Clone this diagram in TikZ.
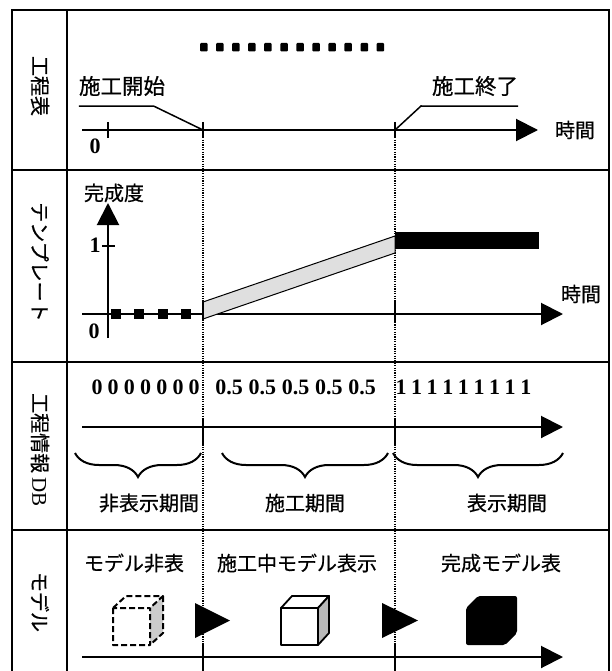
\documentclass[tikz,border=0pt]{standalone}
\usepackage{fontspec}
\newfontfamily\jp[FakeBold=0.6]{Noto Sans CJK JP}
\newfontfamily\numfont{Liberation Serif}
\usetikzlibrary{arrows.meta,decorations.pathreplacing}

\tikzset{
  frame/.style={line width=1.8pt},
  axis/.style={line width=2pt,-{Triangle[length=22pt,width=22pt]}},
  guide/.style={line width=1.3pt,dash pattern=on 1.2pt off 1.2pt},
  tickmark/.style={line width=2pt},
  lead/.style={line width=1.5pt},
  jtext/.style={font=\jp\fontsize{20}{20}\selectfont,inner sep=0pt},
  rowlabel/.style={font=\jp\fontsize{20}{20}\selectfont,inner sep=0pt,rotate=-90},
  num/.style={font=\numfont\bfseries\fontsize{22}{22}\selectfont,inner sep=0pt},
  period/.style={decorate,decoration={brace,amplitude=24pt,mirror},line width=2pt},
}

\begin{document}
\begin{tikzpicture}[x=1pt,y=-1pt]
  \useasboundingbox (0,0) rectangle (612,671);

  % Frame and rows
  \draw[frame] (12,671) -- (12,10) -- (609,10) -- (609,671);
  \draw[frame] (67,10) -- (67,671);
  \foreach \y in {170,362,530}
    \draw[frame] (12,\y) -- (609,\y);

  \node[rowlabel] (lSched) at (40,86) {工程表};
  \node[rowlabel] (lTmpl) at (40,262) {テンプレート};
  \node[rowlabel] (lDB) at (40,450) {工程情報 {\numfont\fontsize{21}{21}\selectfont DB}};
  \node[rowlabel] (lModel) at (40,602) {モデル};

  % Start / finish guides
  \coordinate (start) at (203,130);
  \coordinate (finish) at (395,130);
  \coordinate (startB) at (203,671);
  \coordinate (finishB) at (395,671);
  \draw[guide] (start) -- (startB);
  \draw[guide] (finish) -- (finishB);

  % Schedule
  \coordinate (s0) at (82,130);
  \coordinate (s1) at (538,130);
  \draw[axis] (s0) -- (s1);
  \foreach \x in {108,203,395}
    \draw[tickmark] (\x,122) -- (\x,138);
  \node[num] (sZero) at (95,146) {0};
  \node[jtext] (time1) at (575,130) {時間};
  \foreach \i in {0,...,11}
    \fill[rounded corners=1pt] ({200+16.05*\i},43) rectangle ++(7.5,8.5);
  \node[jtext,font=\jp\fontsize{21.5}{21.5}\selectfont] (lbStart) at (122,86) {施工開始};
  \node[jtext,font=\jp\fontsize{21.5}{21.5}\selectfont] (lbEnd) at (475,86) {施工終了};
  \draw[lead] ([yshift=-10pt]lbStart.south west) -- ++(75,0) -- (start);
  \draw[lead] (finish) -- ++(26,-24) -- ([yshift=-10pt]lbEnd.south east);

  % Template
  \coordinate (t0) at (82,314);
  \coordinate (t1) at (563,314);
  \coordinate (v0) at (108,338);
  \coordinate (v1) at (108,203);
  \draw[axis] (t0) -- (t1);
  \draw[axis] (v0) -- (v1);
  \draw[tickmark] (102,246) -- (115,246);
  \draw[tickmark] (395,300) -- (395,322);
  \node[num] (tOne) at (95,245) {1};
  \node[num] (tZero) at (94,331) {0};
  \node[jtext] (degree) at (114,193) {完成度};
  \node[jtext] (time2) at (581,294) {時間};
  \foreach \x in {115.5,139,162.5,185.5}
    \fill (\x-5,309) rectangle ++(10,10);
  \filldraw[fill=gray!25,line width=1pt] (203,302) -- (395,236) -- (395,253) -- (203,319) -- cycle;
  \draw[tickmark] (203,302) -- (203,320);
  \fill (395,232) rectangle (539,249);

  % Schedule DB
  \coordinate (d0) at (82,427);
  \coordinate (d1) at (563,427);
  \draw[axis] (d0) -- (d1);
  \foreach \x in {203,395}
    \draw[tickmark] (\x,418) -- (\x,445);
  \foreach \i in {0,...,6}
    \node[num] (zero\i) at ({97+16.2*\i},387) {0};
  \foreach \i in {0,...,4}
    \node[num] (half\i) at ({229+33.25*\i},387) {0.5};
  \foreach \i in {0,...,8}
    \node[num] (one\i) at ({401+15.6*\i},387) {1};
  \draw[period] (75,453) -- (201,453);
  \draw[period] (222,453) -- (388,453);
  \draw[period] (393,453) -- (563,453);
  \node[jtext] (hidden) at (149,503) {非表示期間};
  \node[jtext] (building) at (305,503) {施工期間};
  \node[jtext] (shown) at (507,503) {表示期間};

  % Model
  \coordinate (m0) at (82,657);
  \coordinate (m1) at (563,657);
  \draw[axis] (m0) -- (m1);
  \foreach \x in {203,395}
    \draw[tickmark] (\x,643) -- (\x,671);
  \node[jtext] (mHidden) at (134,563) {モデル非表};
  \node[jtext] (mBuilding) at (297,563) {施工中モデル表示};
  \node[jtext] (mDone) at (501,563) {完成モデル表};

  % hidden model
  \fill[gray!40] (150,608) -- (163,596) -- (163,633) -- (150,645) -- cycle;
  \draw[line width=2pt,dash pattern=on 6pt off 3pt,line join=round]
    (113,608) rectangle (150,645)
    (113,608) -- (126,596) -- (163,596) -- (150,608)
    (163,596) -- (163,633) -- (150,645);
  % model under construction
  \filldraw[fill=white,line width=1.8pt,line join=round] (281,608) rectangle (318,645);
  \filldraw[fill=white,line width=1.8pt,line join=round] (281,608) -- (292,596) -- (329,596) -- (318,608) -- cycle;
  \filldraw[fill=gray!55,line width=1.8pt,line join=round] (318,608) -- (329,596) -- (329,633) -- (318,645) -- cycle;
  % finished model
  \fill[rounded corners=2pt] (466,608) -- (478,596) -- (517,596) -- (517,633) -- (505,645) -- (466,645) -- cycle;

  \fill (195,603) -- (195,638) -- (230,620.5) -- cycle;
  \fill (382,603) -- (382,638) -- (418,620.5) -- cycle;
\end{tikzpicture}
\end{document}
